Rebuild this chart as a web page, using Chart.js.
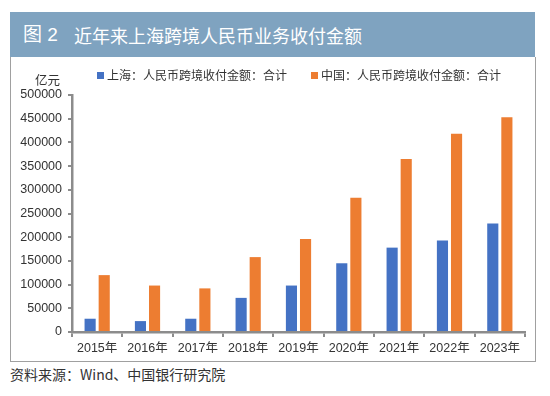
<!DOCTYPE html>
<html>
<head>
<meta charset="utf-8">
<script src="https://cdn.jsdelivr.net/npm/chart.js@4/dist/chart.umd.min.js"></script>
<style>
  body { margin: 0; background: #fff; font-family: 'Liberation Sans', 'Noto Sans CJK SC', sans-serif; }
  #page { position: relative; width: 550px; height: 396px; overflow: hidden; }
  #band { position: absolute; left: 10px; top: 12px; width: 525px; height: 45px; background: #7fa3c0; color: #fff; }
  #band .fig { position: absolute; left: 13px; top: 12px; font-size: 19px; line-height: 22px; }
  #band .txt { position: absolute; left: 64px; top: 12px; font-size: 18px; line-height: 22px; font-family: 'Noto Sans CJK SC', sans-serif; }
  #box { position: absolute; left: 10px; top: 57px; width: 524px; height: 304px; border: 1px solid #a0a0a0; border-top: none; }
  #chartWrap { position: absolute; left: 0; top: 57px; width: 535px; height: 305px; }
  #unit { position: absolute; left: 30px; width: 30px; top: 70px; text-align: right; font-size: 12.5px; color: #333; font-family: 'Noto Sans CJK SC', sans-serif; }
  .leg { position: absolute; top: 67px; font-size: 12px; color: #333; font-family: 'Noto Sans CJK SC', sans-serif; line-height: 16px; }
  .leg i { position: absolute; left: -10px; top: 5px; width: 7px; height: 7px; }
  #source { position: absolute; left: 10px; top: 364px; font-size: 14px; color: #333; font-family: 'Noto Sans CJK SC', sans-serif; }
</style>
</head>
<body>
<div id="page">
  <div id="band"><span class="fig">图 2</span><span class="txt">近年来上海跨境人民币业务收付金额</span></div>
  <div id="box"></div>
  <div id="chartWrap"><canvas id="chart"></canvas></div>
  <div id="unit">亿元</div>
  <div class="leg" style="left:107px"><i style="background:#4472c4"></i>上海：人民币跨境收付金额：合计</div>
  <div class="leg" style="left:321px"><i style="background:#ed7d31"></i>中国：人民币跨境收付金额：合计</div>
  <div id="source">资料来源：Wind、中国银行研究院</div>
</div>
<script>
const years = ["2015年", "2016年", "2017年", "2018年", "2019年", "2020年", "2021年", "2022年", "2023年"];
const shanghai = [28000, 23000, 28000, 72000, 98000, 145000, 178000, 193000, 229000];
const china = [120000, 98000, 92000, 158000, 196000, 283000, 365000, 418000, 453000];
const yTicks = [0, 50000, 100000, 150000, 200000, 250000, 300000, 350000, 400000, 450000, 500000];

const axisColor = '#8c8c8c';
const tickFont = { family: "'Liberation Sans', 'Noto Sans CJK SC', sans-serif", size: 12.5 };

new Chart(document.getElementById('chart'), {
  type: 'bar',
  data: {
    labels: years,
    datasets: [
      { label: '上海：人民币跨境收付金额：合计', data: shanghai, backgroundColor: '#4472c4' },
      { label: '中国：人民币跨境收付金额：合计', data: china, backgroundColor: '#ed7d31' }
    ]
  },
  options: {
    responsive: true,
    maintainAspectRatio: false,
    animation: false,
    layout: { padding: { top: 38, left: 20, right: 10, bottom: 2 } },
    categoryPercentage: 0.56,
    barPercentage: 0.79,
    plugins: { legend: { display: false }, tooltip: { enabled: false } },
    scales: {
      x: {
        grid: { display: true, drawOnChartArea: false, color: axisColor, lineWidth: 2, tickLength: 5 },
        border: { color: axisColor, width: 2.5 },
        ticks: { color: '#333', font: tickFont, padding: 4, maxRotation: 0 }
      },
      y: {
        min: 0,
        max: 500000,
        afterFit: s => { s.width = 52; },
        afterBuildTicks: s => { s.ticks = yTicks.map(v => ({ value: v })); },
        grid: { display: true, drawOnChartArea: false, color: axisColor, lineWidth: 2, tickLength: 4 },
        border: { color: axisColor, width: 2.5 },
        ticks: { color: '#333', font: tickFont, padding: 6, callback: v => String(v) }
      }
    }
  }
});
</script>
</body>
</html>
